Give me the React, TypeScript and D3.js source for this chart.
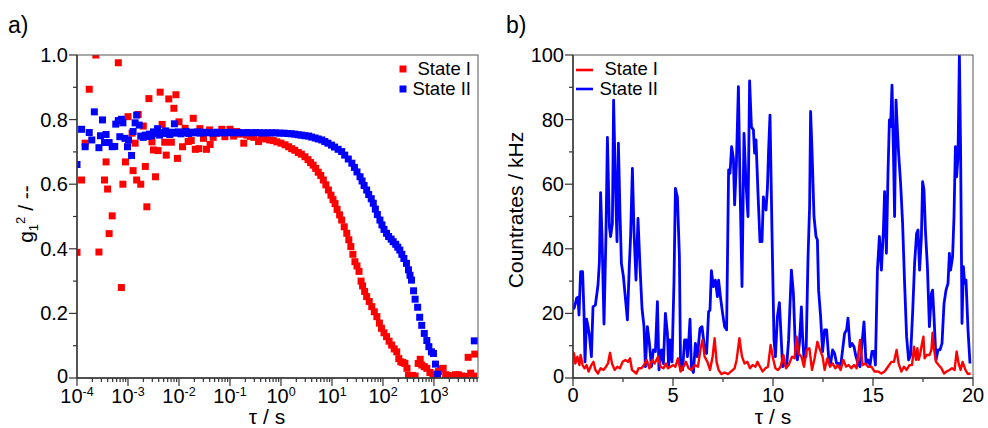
import React from "react";
import * as d3 from "d3";

// ---------- Panel a: g1^2 vs tau (log10 tau values) ----------
const redLogTau = [
  -4.0, -3.91, -3.84, -3.76, -3.63, -3.57, -3.46, -3.43, -3.4, -3.37, -3.31, -3.19, -3.13, -3.1, -3.05, -3.0,
  -2.92, -2.9, -2.86, -2.83, -2.8, -2.75, -2.7, -2.66, -2.63, -2.59, -2.53, -2.5, -2.46, -2.41, -2.37, -2.33,
  -2.28, -2.25, -2.2, -2.15, -2.1, -2.06, -2.03, -2.0, -1.93, -1.88, -1.82, -1.76, -1.72, -1.68, -1.61, -1.59,
  -1.52, -1.46, -1.4, -1.39, -1.33, -1.26, -1.16, -1.1, -1.0, -0.93, -0.87, -0.8, -0.73, -0.67, -0.6, -0.53,
  -0.44, -0.38, -0.3, -0.22, -0.15, -0.08, 0.0, 0.08, 0.15, 0.21, 0.27, 0.34, 0.4, 0.47, 0.53, 0.58, 0.63,
  0.68, 0.73, 0.78, 0.83, 0.88, 0.93, 0.98, 1.02, 1.06, 1.1, 1.15, 1.19, 1.24, 1.29, 1.33, 1.37, 1.41, 1.45,
  1.49, 1.53, 1.57, 1.6, 1.64, 1.68, 1.73, 1.78, 1.83, 1.88, 1.93, 1.97, 2.02, 2.07, 2.12, 2.17, 2.22, 2.27,
  2.31, 2.35, 2.39, 2.43, 2.47, 2.5, 2.53, 2.58, 2.63, 2.69, 2.73, 2.76, 2.81, 2.86, 2.92, 2.98, 3.04, 3.09,
  3.14, 3.18, 3.23, 3.28, 3.35, 3.42, 3.48, 3.55, 3.62, 3.67, 3.72, 3.78, 3.8,
];
const redG = [
  0.389, 0.613, 0.727, 0.894, 1.0, 0.39, 0.613, 0.669, 0.585, 0.447, 0.502, 0.976, 0.28, 0.6, 0.669, 0.809,
  0.758, 0.642, 0.727, 0.613, 0.816, 0.6, 0.78, 0.655, 0.53, 0.865, 0.731, 0.706, 0.623, 0.704, 0.885, 0.785,
  0.73, 0.69, 0.864, 0.73, 0.835, 0.877, 0.68, 0.793, 0.716, 0.773, 0.732, 0.735, 0.804, 0.708, 0.71, 0.772,
  0.742, 0.708, 0.768, 0.723, 0.745, 0.757, 0.77, 0.747, 0.77, 0.749, 0.763, 0.755, 0.727, 0.752, 0.748, 0.745,
  0.732, 0.745, 0.74, 0.737, 0.735, 0.731, 0.727, 0.722, 0.716, 0.71, 0.705, 0.698, 0.693, 0.685, 0.676, 0.667, 0.659,
  0.649, 0.637, 0.627, 0.613, 0.598, 0.582, 0.566, 0.552, 0.54, 0.522, 0.505, 0.489, 0.468, 0.448, 0.428, 0.407, 0.383, 0.36,
  0.347, 0.33, 0.3, 0.285, 0.268, 0.252, 0.237, 0.221, 0.205, 0.19, 0.17, 0.154, 0.14, 0.128, 0.114, 0.102, 0.09, 0.081,
  0.06, 0.05, 0.048, 0.045, 0.03, 0.008, 0.006, 0.008, 0.006, 0.045, 0.058, 0.04, 0.035, 0.03, 0.017, 0.008, 0.012, 0.02,
  0.028, 0.03, 0.01, 0.008, 0.005, 0.01, 0.01, 0.006, 0.005, 0.064, 0.015, 0.006, 0.074,
];
const blueLogTau = [
  -4.0, -3.91, -3.84, -3.76, -3.71, -3.66, -3.57, -3.54, -3.5, -3.46, -3.43, -3.37, -3.31, -3.26, -3.24, -3.19,
  -3.16, -3.13, -3.1, -3.06, -3.01, -2.99, -2.93, -2.9, -2.86, -2.83, -2.78, -2.75, -2.7, -2.66, -2.62, -2.58,
  -2.54, -2.5, -2.46, -2.42, -2.38, -2.34, -2.3, -2.26, -2.22, -2.18, -2.13, -2.09, -2.05, -2.01, -1.96, -1.91,
  -1.86, -1.81, -1.76, -1.7, -1.64, -1.58, -1.52, -1.46, -1.4, -1.33, -1.26, -1.19, -1.12, -1.05, -0.98, -0.9,
  -0.82, -0.74, -0.66, -0.58, -0.5, -0.42, -0.34, -0.26, -0.18, -0.1, -0.02, 0.06, 0.13, 0.2, 0.27, 0.34, 0.4,
  0.47, 0.54, 0.6, 0.67, 0.73, 0.8, 0.86, 0.92, 0.99, 1.05, 1.12, 1.19, 1.25, 1.32, 1.39, 1.44, 1.49, 1.55, 1.59,
  1.63, 1.68, 1.72, 1.77, 1.81, 1.85, 1.89, 1.94, 1.98, 2.02, 2.07, 2.11, 2.16, 2.2, 2.25, 2.29, 2.33, 2.37, 2.41,
  2.46, 2.5, 2.53, 2.56, 2.6, 2.63, 2.68, 2.72, 2.76, 2.81, 2.86, 2.9, 2.95, 2.99, 3.03, 3.07, 3.79,
];
const blueG = [
  0.661, 0.77, 0.716, 0.76, 0.737, 0.824, 0.713, 0.75, 0.799, 0.729, 0.754, 0.729, 0.716, 0.717, 0.786, 0.797,
  0.747, 0.801, 0.79, 0.742, 0.716, 0.737, 0.689, 0.763, 0.79, 0.814, 0.783, 0.749, 0.745, 0.752, 0.748, 0.755,
  0.75, 0.762, 0.756, 0.772, 0.752, 0.76, 0.757, 0.765, 0.76, 0.754, 0.761, 0.787, 0.758, 0.762, 0.756, 0.76,
  0.763, 0.757, 0.761, 0.759, 0.762, 0.758, 0.761, 0.759, 0.76, 0.758, 0.761, 0.759, 0.76, 0.759, 0.761, 0.759,
  0.76, 0.759, 0.76, 0.759, 0.76, 0.759, 0.759, 0.759, 0.759, 0.759, 0.758, 0.758, 0.757, 0.756, 0.755, 0.753, 0.752,
  0.75, 0.749, 0.746, 0.743, 0.74, 0.737, 0.732, 0.727, 0.721, 0.715, 0.708, 0.701, 0.69, 0.678, 0.665, 0.652, 0.638, 0.623, 0.61,
  0.596, 0.582, 0.568, 0.555, 0.541, 0.523, 0.506, 0.489, 0.474, 0.46, 0.448, 0.438, 0.43, 0.422, 0.414, 0.405, 0.396, 0.383, 0.37,
  0.355, 0.335, 0.318, 0.303, 0.27, 0.244, 0.219, 0.188, 0.163, 0.138, 0.116, 0.097, 0.081, 0.076, 0.043, 0.012, 0.115,
];
const gTicks = [0, 0.2, 0.4, 0.6, 0.8, 1.0];
const gMinor = [0.1, 0.3, 0.5, 0.7, 0.9];
const tauDecades = [-4, -3, -2, -1, 0, 1, 2, 3];

// ---------- Panel b: countrates vs time ----------
const blueT = [
  0, 0.05, 0.12, 0.18, 0.25, 0.3, 0.38, 0.48, 0.55, 0.6, 0.68, 0.75, 0.82, 0.92, 1.0, 1.12, 1.25, 1.32, 1.38, 1.45,
  1.55, 1.65, 1.72, 1.82, 1.88, 1.97, 2.03, 2.12, 2.2, 2.27, 2.35, 2.42, 2.52, 2.62, 2.72, 2.82, 2.88, 2.97, 3.05,
  3.15, 3.25, 3.35, 3.45, 3.55, 3.62, 3.72, 3.82, 3.92, 4.02, 4.12, 4.22, 4.3, 4.42, 4.52, 4.62, 4.72, 4.78, 4.85,
  4.95, 5.05, 5.12, 5.22, 5.32, 5.38, 5.48, 5.58, 5.67, 5.72, 5.78, 5.85, 5.92, 6.02, 6.12, 6.22, 6.35, 6.45, 6.55,
  6.68, 6.78, 6.85, 6.92, 7.02, 7.12, 7.22, 7.28, 7.38, 7.48, 7.58, 7.68, 7.78, 7.85, 7.93, 8.02, 8.08, 8.17, 8.27,
  8.35, 8.45, 8.55, 8.65, 8.75, 8.83, 8.92, 9.02, 9.08, 9.15, 9.25, 9.35, 9.45, 9.52, 9.58, 9.65, 9.72, 9.78, 9.85,
  9.95, 10.05, 10.12, 10.22, 10.32, 10.38, 10.48, 10.58, 10.68, 10.78, 10.92, 11.02, 11.12, 11.22, 11.32, 11.42,
  11.48, 11.55, 11.65, 11.75, 11.83, 11.88, 11.95, 12.05, 12.15, 12.22, 12.28, 12.38, 12.48, 12.58, 12.68, 12.78,
  12.88, 12.98, 13.08, 13.18, 13.28, 13.38, 13.48, 13.58, 13.68, 13.75, 13.85, 13.95, 14.05, 14.15, 14.25, 14.35,
  14.45, 14.55, 14.65, 14.75, 14.85, 14.95, 15.05, 15.12, 15.22, 15.32, 15.42, 15.52, 15.58, 15.67, 15.75, 15.82,
  15.88, 15.95, 16.02, 16.08, 16.15, 16.22, 16.28, 16.38, 16.48, 16.58, 16.68, 16.78, 16.88, 16.98, 17.08, 17.18,
  17.25, 17.33, 17.42, 17.48, 17.55, 17.62, 17.72, 17.82, 17.92, 17.98, 18.05, 18.15, 18.25, 18.35, 18.45, 18.55,
  18.65, 18.75, 18.82, 18.88, 18.98, 19.05, 19.12, 19.18, 19.25, 19.32, 19.38, 19.45, 19.52, 19.58, 19.65, 19.75, 19.85,
];
const blueV = [
  21.6, 21.6, 23, 24.7, 25, 19.5, 32.9, 32.9, 20, 5, 18.2, 16, 13.3, 6.6, 22, 22.6, 28.8, 36, 57.4, 43.8,
  16.7, 45, 74.5, 46.9, 43.8, 47.9, 86, 60.3, 42.2, 72.7, 51, 35.5, 31.4, 24.7, 18, 35.5, 43.8, 64.9, 45.3,
  30.3, 49.4, 34.5, 21.6, 15.9, 3.5, 15.9, 10.7, 3.5, 8.7, 8.2, 23.6, 2.5, 8.7, 4.5, 20, 13.8, 3.5, 11.8,
  5, 30, 58.7, 56, 37.6, 2.5, 2.5, 11.8, 11.8, 6.6, 10.7, 18.2, 3.5, 1.7, 10.7, 6.6, 15.4, 15.9, 10.7,
  7.6, 20.5, 21, 33.2, 28.3, 30.3, 25.2, 30.3, 24.7, 20, 15.9, 14.9, 64.4, 63.4, 71.6, 68, 53.6, 66.5, 90.2,
  60.3, 28.3, 75.7, 60.3, 50, 92, 77.8, 76.8, 69.6, 73.7, 57.2, 42.2, 42.2, 56.1, 53, 52, 58.7, 70.6, 81.4,
  45, 11.8, 6.6, 19, 23.3, 15.9, 3.5, 4.5, 3.5, 11.8, 33.4, 26.2, 8.7, 5.6, 10.7, 22,
  12.8, 6.1, 6.6, 37, 53, 82.5, 70.6, 50, 43.8, 42.7, 27.2, 19, 8.2, 14.9, 14.9, 6.6,
  4.5, 8.7, 7.6, 4.5, 4.5, 3.5, 8.7, 13.8, 14.9, 18.5, 9.7, 10.7, 9.7, 6.6, 4.5, 3.5,
  10.7, 17.4, 4.5, 5.6, 4, 8.2, 8.2, 4, 33.4, 43.8, 33.4, 45.8, 57.7, 38.6, 63.4, 79.9,
  77.8, 90.7, 70.6, 50, 86, 76.8, 69.6, 60.3, 47.9, 29.3, 12.8, 5.6, 7.1, 20, 35.5, 44.8,
  45.8, 33.4, 43.8, 60.8, 58.2, 45.8, 34.5, 15.9, 26.2, 27.2, 19, 5.6, 8.7, 8.7, 10.7, 23,
  27.2, 29.3, 38.6, 33.4, 37.6, 50, 71.6, 62.3, 68.5, 100, 70.6, 16.9, 34.5, 29.3, 30.3, 14.9, 4.5,
];
const redT = [
  0, 0.05, 0.12, 0.22, 0.32, 0.38, 0.48, 0.58, 0.68, 0.78, 0.92, 1.02, 1.12, 1.25, 1.38, 1.52, 1.65, 1.75, 1.85,
  1.95, 2.08, 2.22, 2.35, 2.48, 2.62, 2.75, 2.85, 2.95, 3.05, 3.17, 3.28, 3.42, 3.55, 3.68, 3.82, 3.95, 4.08, 4.25,
  4.38, 4.52, 4.65, 4.75, 4.88, 5.02, 5.12, 5.25, 5.38, 5.52, 5.65, 5.78, 5.92, 6.08, 6.25, 6.38, 6.48, 6.58, 6.72,
  6.85, 6.98, 7.08, 7.18, 7.28, 7.42, 7.58, 7.75, 7.95, 8.08, 8.18, 8.32, 8.45, 8.58, 8.72, 8.85, 8.98, 9.12, 9.22,
  9.35, 9.48, 9.62, 9.75, 9.88, 10.02, 10.12, 10.25, 10.38, 10.52, 10.65, 10.78, 10.95, 11.08, 11.18, 11.28, 11.42,
  11.55, 11.68, 11.82, 11.95, 12.08, 12.22, 12.35, 12.48, 12.58, 12.72, 12.85, 12.98, 13.12, 13.25, 13.38, 13.52,
  13.65, 13.78, 13.92, 14.05, 14.18, 14.35, 14.48, 14.62, 14.75, 14.92, 15.08, 15.25, 15.42, 15.58, 15.75, 15.92,
  16.05, 16.18, 16.28, 16.42, 16.55, 16.68, 16.82, 16.95, 17.05, 17.15, 17.22, 17.28, 17.35, 17.45, 17.52, 17.58,
  17.68, 17.82, 17.92, 17.98, 18.05, 18.15, 18.28, 18.42, 18.55, 18.68, 18.82, 18.95, 19.08, 19.18, 19.28, 19.38,
  19.48, 19.62, 19.75, 19.88,
];
const redV = [
  8, 7.6, 4.5, 6.6, 4, 7.1, 4, 3, 4, 2, 4, 5, 2.5, 1.4, 3, 2.5, 3.5, 4.5, 7.8,
  4.5, 2.5, 3.5, 3, 5, 5.6, 5, 6.1, 2.5, 2, 1.4, 3, 3, 4, 5.6, 3, 5.6, 4.5, 6.6,
  3.5, 3, 4.5, 3, 3.5, 4, 3.5, 6.1, 2, 3.5, 5, 3, 2.5, 4, 3.5, 9.2, 11.8, 6.6, 5,
  2.5, 6.6, 12.3, 5, 2.5, 1.2, 1.7, 1.2, 2.3, 3, 5.6, 12.3, 6.6, 4.5, 5, 3, 4, 3.5, 5,
  3.5, 2, 3, 3.5, 10.2, 5.6, 3, 2.5, 3.5, 7.1, 3, 4, 6.6, 6.1, 12.8, 7.6, 6.6,
  3.5, 8.7, 9.2, 2.5, 6.1, 11.2, 8.7, 6.6, 2.5, 6.1, 3.5, 4.5, 3, 4, 2.5, 5.6,
  3.5, 4, 3, 4, 3, 11.8, 4, 4.5, 3.5, 3.5, 2, 2, 1.4, 2, 3.5, 5,
  5, 8.7, 4.5, 2, 3.5, 2.5, 4, 4, 9.7, 5.6, 9.2, 5.6, 7.1, 10.7, 12.8, 6.1,
  7.1, 7.1, 8.7, 14, 9, 5, 4, 3, 1.4, 2, 2.5, 3, 2.5, 8.2, 4.5, 2.5,
  5, 2.5, 1.2, 1.4,
];
const rateTicks = [0, 20, 40, 60, 80, 100];
const rateMinor = [10, 30, 50, 70, 90];
const timeTicks = [0, 5, 10, 15, 20];
const timeMinor = [2.5, 7.5, 12.5, 17.5];
const seriesNames = ["State I", "State II"];

const RED = "#ff0000";
const BLUE = "#0000ff";
const AX = "#333333";
const FONT = "'Liberation Sans', Arial, Helvetica, sans-serif";

const A = { l: 77, r: 478, t: 55, b: 378 };
const B = { l: 573, r: 973, t: 55, b: 378 };
const MAJ = 8;
const MIN = 4;

export default function App() {
  const xA = d3.scaleLog().domain([1e-4, 7300]).range([A.l, A.r]);
  const yA = d3.scaleLinear().domain([0, 1]).range([A.b, A.t]);
  const xB = d3.scaleLinear().domain([0, 20]).range([B.l, B.r]);
  const yB = d3.scaleLinear().domain([0, 100]).range([B.b, B.t]);

  const tauMinor: number[] = [];
  tauDecades.forEach((e) => {
    for (let m = 2; m <= 9; m++) {
      const v = m * Math.pow(10, e);
      if (v <= 7300) tauMinor.push(v);
    }
  });

  const red = redLogTau.map((lt, i) => ({ x: Math.pow(10, lt), y: redG[i] }));
  const blue = blueLogTau.map((lt, i) => ({ x: Math.pow(10, lt), y: blueG[i] }));
  const bluePts = blueT.map((t, i) => [t, blueV[i]] as [number, number]);
  const redPts = redT.map((t, i) => [t, redV[i]] as [number, number]);
  const line = d3
    .line<[number, number]>()
    .x((d) => xB(d[0]))
    .y((d) => yB(d[1]));

  const S = 7;

  return (
    <svg
      width={988}
      height={428}
      style={{ position: "absolute", left: 0, top: 0, background: "#fff" }}
      fontFamily={FONT}
    >
      <defs>
        <clipPath id="clipA">
          <rect x={A.l} y={A.t} width={A.r - A.l} height={A.b - A.t} />
        </clipPath>
        <clipPath id="clipB">
          <rect x={B.l} y={B.t} width={B.r - B.l} height={B.b - B.t} />
        </clipPath>
      </defs>
      <rect x={0} y={0} width={988} height={428} fill="#fff" />

      {/* ---------------- Panel a ---------------- */}
      <text x={8} y={33} fontSize={23} fill="#000">a)</text>
      <g clipPath="url(#clipA)">
        {red.map((d, i) => (
          <rect key={"r" + i} x={xA(d.x) - S / 2} y={yA(d.y) - S / 2} width={S} height={S} fill={RED} />
        ))}
        {blue.map((d, i) => (
          <rect key={"b" + i} x={xA(d.x) - S / 2} y={yA(d.y) - S / 2} width={S} height={S} fill={BLUE} />
        ))}
      </g>
      <rect x={A.l} y={A.t} width={A.r - A.l} height={A.b - A.t} fill="none" stroke="#555" strokeWidth={1} />
      <line x1={A.l} x2={A.l} y1={A.t} y2={A.b} stroke={AX} strokeWidth={1.4} />
      <line x1={A.l} x2={A.r} y1={A.b} y2={A.b} stroke={AX} strokeWidth={1.4} />
      {gTicks.map((v) => (
        <g key={"gt" + v}>
          <line x1={A.l - MAJ} x2={A.l} y1={yA(v)} y2={yA(v)} stroke={AX} strokeWidth={1.2} />
          <text x={A.l - MAJ - 1} y={yA(v) + (v === 0 ? 5 : 7)} fontSize={20} textAnchor="end" fill="#000">
            {v === 0 ? "0" : v.toFixed(1)}
          </text>
        </g>
      ))}
      {gMinor.map((v) => (
        <line key={"gm" + v} x1={A.l - MIN} x2={A.l} y1={yA(v)} y2={yA(v)} stroke={AX} strokeWidth={1.2} />
      ))}
      {tauDecades.map((e) => (
        <g key={"td" + e}>
          <line x1={xA(Math.pow(10, e))} x2={xA(Math.pow(10, e))} y1={A.b} y2={A.b + MAJ} stroke={AX} strokeWidth={1.2} />
          <text x={xA(Math.pow(10, e))} y={403} fontSize={20} textAnchor="middle" fill="#000">
            10
            <tspan fontSize={12.5} dy={-7}>{e}</tspan>
          </text>
        </g>
      ))}
      {tauMinor.map((v, i) => (
        <line key={"tm" + i} x1={xA(v)} x2={xA(v)} y1={A.b} y2={A.b + MIN} stroke={AX} strokeWidth={1.2} />
      ))}
      <text x={267} y={424} fontSize={21} textAnchor="middle" fill="#000">τ / s</text>
      <text transform={`translate(33,214) rotate(-90)`} fontSize={21} textAnchor="middle" fill="#000">
        g<tspan fontSize={13} dy={5}>1</tspan>
        <tspan fontSize={13} dy={-13}>2</tspan>
        <tspan dy={8}> / --</tspan>
      </text>
      {/* legend a */}
      <rect x={403 - S / 2} y={69 - S / 2} width={S} height={S} fill={RED} />
      <rect x={403 - S / 2} y={89 - S / 2} width={S} height={S} fill={BLUE} />
      <text x={471} y={75} fontSize={18.5} textAnchor="end" fill="#000">{seriesNames[0]}</text>
      <text x={471} y={95} fontSize={18.5} textAnchor="end" fill="#000">{seriesNames[1]}</text>

      {/* ---------------- Panel b ---------------- */}
      <text x={506} y={33} fontSize={23} fill="#000">b)</text>
      <g clipPath="url(#clipB)">
        <path d={line(bluePts) || ""} fill="none" stroke={BLUE} strokeWidth={2.8} strokeLinejoin="round" />
        <path d={line(redPts) || ""} fill="none" stroke={RED} strokeWidth={2.4} strokeLinejoin="round" />
      </g>
      <rect x={B.l} y={B.t} width={B.r - B.l} height={B.b - B.t} fill="none" stroke="#555" strokeWidth={1} />
      <line x1={B.l} x2={B.l} y1={B.t} y2={B.b} stroke={AX} strokeWidth={1.4} />
      <line x1={B.l} x2={B.r} y1={B.b} y2={B.b} stroke={AX} strokeWidth={1.4} />
      {rateTicks.map((v) => (
        <g key={"rt" + v}>
          <line x1={B.l - MAJ} x2={B.l} y1={yB(v)} y2={yB(v)} stroke={AX} strokeWidth={1.2} />
          <text x={B.l - MAJ - 1} y={yB(v) + (v === 0 ? 5 : 7)} fontSize={20} textAnchor="end" fill="#000">{v}</text>
        </g>
      ))}
      {rateMinor.map((v) => (
        <line key={"rm" + v} x1={B.l - MIN} x2={B.l} y1={yB(v)} y2={yB(v)} stroke={AX} strokeWidth={1.2} />
      ))}
      {timeTicks.map((v) => (
        <g key={"tt" + v}>
          <line x1={xB(v)} x2={xB(v)} y1={B.b} y2={B.b + MAJ} stroke={AX} strokeWidth={1.2} />
          <text x={xB(v)} y={402} fontSize={20} textAnchor="middle" fill="#000">{v}</text>
        </g>
      ))}
      {timeMinor.map((v) => (
        <line key={"tmn" + v} x1={xB(v)} x2={xB(v)} y1={B.b} y2={B.b + MIN} stroke={AX} strokeWidth={1.2} />
      ))}
      <text x={773} y={424} fontSize={21} textAnchor="middle" fill="#000">τ / s</text>
      <text transform={`translate(523,210) rotate(-90)`} fontSize={21} textAnchor="middle" fill="#000">
        Countrates / kHz
      </text>
      {/* legend b */}
      <line x1={576} x2={593} y1={70} y2={70} stroke={RED} strokeWidth={2.6} />
      <line x1={576} x2={593} y1={89} y2={89} stroke={BLUE} strokeWidth={2.6} />
      <text x={658} y={75} fontSize={18.5} textAnchor="end" fill="#000">{seriesNames[0]}</text>
      <text x={658} y={95} fontSize={18.5} textAnchor="end" fill="#000">{seriesNames[1]}</text>
    </svg>
  );
}
